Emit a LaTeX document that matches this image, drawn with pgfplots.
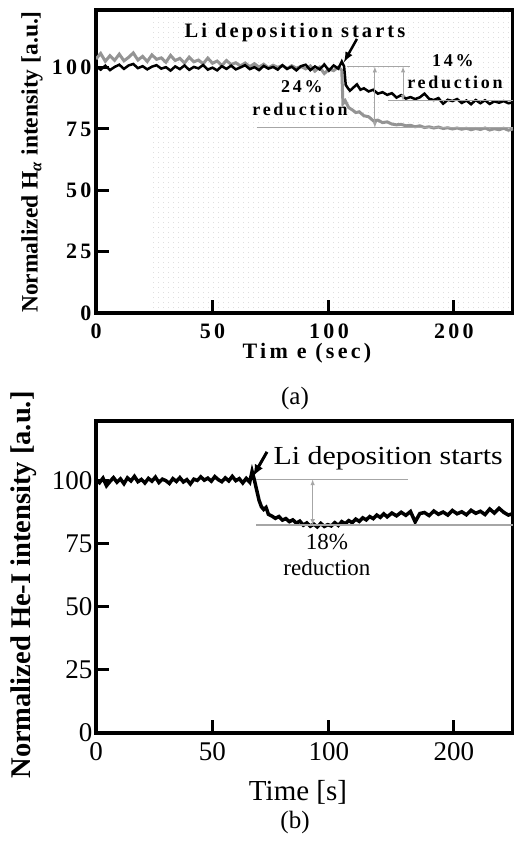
\documentclass[border=0pt]{standalone}
\usepackage{fontspec}
\setmainfont{Liberation Serif}
\newfontfamily\spbold[LetterSpace=15]{Liberation Serif Bold}
\usepackage{graphicx}
\usepackage{pgfplots}
\pgfplotsset{compat=1.18}
\pgfplotsset{myax/.style={
  scale only axis, width=417bp, xmin=0, xmax=179, ymin=0,
  anchor=south west,
  axis line style={line width=3.5bp},
  major tick length=13bp, tick style={black, line width=3bp},
  tick pos=left,
  xtick={0,50,100,153.6}, xticklabels={0,50,100,200},
  ytick={0,25,50,75,100}, yticklabels={0,25,50,75,100},
}}
\begin{document}
\begin{tikzpicture}
\useasboundingbox (0,0) rectangle (514bp,-841bp);
% ---------------- panel (a) ----------------
\begin{axis}[myax, at={(96bp,-313bp)}, height=303bp, ymax=123.5,
  tick label style={font=\spbold\fontsize{22bp}{26bp}\selectfont},
  xticklabel shift=7bp, yticklabel shift=1bp,
  xminorgrids=true, minor xtick={24.5,26.65,...,179}, minor tick length=0pt,
  minor grid style={gray!25, line width=0.9bp, dash pattern=on 0.9bp off 4.1bp},
]
\addplot[black!42, line width=3bp] coordinates {
(0,103.5)(2,105.8)(4,102.6)(6,104.9)(8,103.0)(10,105.5)(12,102.8)(14,104.2)(16,106.0)(18,103.1)
(20,104.6)(22,102.5)(24,105.2)(26,103.4)(28,104.0)(30,102.2)(32,105.0)(34,102.9)(36,103.8)(38,101.9)
(40,104.3)(42,102.4)(44,103.1)(46,101.6)(48,103.9)(50,101.8)(52,102.7)(54,100.9)(56,102.9)(58,101.3)
(60,102.0)(62,100.7)(64,101.9)(66,100.4)(68,101.6)(70,100.2)(72,101.4)(74,99.9)(76,101.0)(78,100.1)
(80,100.9)(82,99.6)(84,100.8)(86,99.8)(88,100.5)(90,99.5)(92,100.7)(94,98.6)(96,100.2)(98,97.6)
(100,99.4)(102,98.8)(104,100.2)(105.5,99.0)(106,85.3)(107,86.5)(108.5,83.7)(110,82.8)(111.5,81.7)(113,82.0)
(115,80.4)(117,80.0)(119,78.4)(121,78.6)(123,77.6)(125,77.9)(127,77.0)(129,76.7)(131,76.9)(133,76.3)
(135,76.5)(137,75.9)(139,76.3)(141,75.6)(143,75.9)(145,75.4)(147,75.8)(149,75.2)(151,75.5)(153,75.0)
(155,75.4)(157,74.9)(159,75.3)(161,74.7)(163,75.2)(165,74.8)(167,75.4)(169,74.6)(171,75.1)(173,74.7)
(175,75.3)(177,74.5)(179,75.0)};
\addplot[black, line width=2.5bp] coordinates {
(0,100.5)(2,99.2)(4,100.8)(6,99.0)(8,100.3)(10,101.2)(12,99.5)(14,100.9)(16,101.5)(18,99.8)
(20,100.6)(22,99.3)(24,100.4)(26,101.0)(28,99.6)(30,100.2)(32,98.8)(34,100.5)(36,99.4)(38,100.9)
(40,99.1)(42,100.3)(44,99.7)(46,101.1)(48,99.2)(50,100.0)(52,98.9)(54,100.6)(56,99.5)(58,100.8)
(60,99.3)(62,100.1)(64,101.0)(66,99.4)(68,100.2)(70,99.0)(72,100.7)(74,99.6)(76,100.3)(78,99.2)
(80,101.0)(82,99.5)(84,100.4)(86,98.9)(88,100.6)(90,101.2)(92,99.0)(94,100.5)(96,99.3)(98,101.3)
(100,98.8)(102,100.9)(104,99.6)(105.5,102.5)(106.5,100.5)(107.2,93.0)(108,91.8)(109,90.6)(110.5,91.9)(112,93.2)
(113.5,91.0)(115,91.6)(117,90.3)(119,91.0)(121,89.4)(123,90.0)(125,88.9)(127,89.6)(129,87.8)(131,88.8)
(133,87.4)(135,88.0)(137,87.2)(139,87.9)(141,89.4)(143,87.3)(145,86.8)(147,87.6)(149,85.3)(151,86.9)
(153,86.4)(155,87.2)(157,85.6)(159,86.6)(161,85.1)(163,86.8)(165,85.5)(167,86.7)(169,85.2)(171,86.3)
(173,85.7)(175,86.4)(177,85.5)(179,85.8)};
% reference lines
\addplot[gray!70, line width=1.2bp] coordinates {(107.7,100.4)(134.8,100.4)};
\addplot[gray!70, line width=1.2bp] coordinates {(125.3,86.5)(179,86.5)};
\addplot[gray!70, line width=1.2bp] coordinates {(69,75.5)(179,75.5)};
\addplot[gray!70, line width=1bp, <->, >=latex] coordinates {(119.7,100.4)(119.7,75.5)};
\addplot[gray!70, line width=1bp, <->, >=latex] coordinates {(131.8,100.4)(131.8,86.5)};
\addplot[black, line width=2.5bp, -latex] coordinates {(112,111.7)(106.4,102.2)};
\node[anchor=base, font=\spbold\fontsize{20.5bp}{24bp}\selectfont] at (axis cs:85.4,112.1) {Li deposition starts};
\node[font=\spbold\fontsize{18bp}{22bp}\selectfont] at (axis cs:153.2,102.7) {14\%};
\node[font=\spbold\fontsize{18bp}{22bp}\selectfont] at (axis cs:154.1,94.2) {reduction};
\node[font=\spbold\fontsize{18bp}{22bp}\selectfont] at (axis cs:88.4,92.1) {24\%};
\node[font=\spbold\fontsize{18bp}{22bp}\selectfont] at (axis cs:87.6,83.2) {reduction};
\end{axis}
\node[rotate=90, font=\bfseries\fontsize{23.5bp}{28bp}\selectfont] at (32bp,-162bp) {Normalized H\textsubscript{\textit{α}} intensity [a.u.]};
\node[font=\spbold\fontsize{22bp}{26bp}\selectfont] at (307bp,-353bp) {Tim e (sec)};
\node[font=\fontsize{25bp}{30bp}\selectfont] at (295bp,-398bp) {(a)};
% ---------------- panel (b) ----------------
\begin{axis}[myax, at={(96bp,-733bp)}, height=312bp, ymax=123.4,
  tick label style={font=\fontsize{27bp}{32bp}\selectfont},
  xticklabel shift=6bp,
]
\addplot[black, line width=3.5bp] coordinates {
(0,100.2)(1.5,99.0)(3,100.8)(4.5,97.8)(6,99.5)(7.5,101.0)(9,99.2)(10.5,100.5)(12,98.6)(13.5,100.9)
(15,99.7)(16.5,101.5)(18,99.4)(19.5,100.3)(21,98.9)(22.5,100.7)(24,99.6)(25.5,101.2)(27,99.1)(28.5,100.4)
(30,99.8)(31.5,98.7)(33,100.6)(34.5,99.5)(36,101.0)(37.5,99.3)(39,100.2)(40.5,98.5)(42,100.4)(43.5,99.9)
(45,101.3)(46.5,100.0)(48,100.8)(49.5,99.6)(51,101.4)(52.5,100.2)(54,99.4)(55.5,100.9)(57,99.7)(58.5,101.5)
(60,99.8)(61.5,100.6)(63,98.9)(64.5,100.7)(66,99.2)(67,103.5)(68,100.0)(69,96.0)(70,92.0)(71,89.5)
(72,88.4)(73,89.2)(74,86.5)(75.5,85.8)(77,84.9)(78.5,85.6)(80,84.2)(81.5,84.8)(83,83.6)(84.5,84.3)
(86,83.0)(87.5,83.8)(89,82.2)(90.5,83.1)(92,81.8)(93.5,82.6)(95,81.5)(96.5,82.9)(98,81.7)(99.5,82.4)
(101,81.9)(102.5,83.2)(104,82.1)(105.5,83.6)(107,82.8)(108.5,84.0)(110,83.2)(111.5,84.6)(113,83.7)(114.5,85.1)
(116,84.3)(117.5,85.6)(119,84.8)(120.5,86.2)(122,85.3)(123.5,86.7)(125,85.5)(127,87.0)(129,85.9)(131,87.3)
(133,86.1)(135,87.6)(137,83.5)(139,86.8)(141,87.2)(143,86.0)(145,87.8)(147,86.5)(149,87.4)(151,86.2)
(153,88.0)(155,86.7)(157,87.5)(159,86.3)(161,88.1)(163,86.9)(165,87.7)(167,86.4)(169,88.6)(171,87.0)
(173,88.9)(175,87.3)(177,86.2)(179,86.8)};
\addplot[gray!70, line width=1.2bp] coordinates {(68.7,100.3)(134,100.3)};
\addplot[gray!70, line width=1.2bp] coordinates {(68.7,82.3)(179,82.3)};
\addplot[gray!70, line width=1bp, <->, >=latex] coordinates {(93,100.3)(93,82.3)};
\addplot[black, line width=3bp, -latex] coordinates {(73.4,111.2)(67.4,101.5)};
\node[anchor=base west, font=\fontsize{26bp}{30bp}\selectfont] at (axis cs:74.7,106) {\scalebox{1.15}[1]{Li deposition starts}};
\node[font=\fontsize{23bp}{27bp}\selectfont] at (axis cs:99.1,75.6) {18\%};
\node[font=\fontsize{23bp}{27bp}\selectfont] at (axis cs:99.1,65.3) {reduction};
\end{axis}
\node[rotate=90, font=\bfseries\fontsize{28.5bp}{33bp}\selectfont] at (24bp,-585bp) {Normalized He-I intensity [a.u.]};
\node[font=\fontsize{29bp}{34bp}\selectfont] at (298bp,-792bp) {Time [s]};
\node[font=\fontsize{25bp}{30bp}\selectfont] at (295bp,-822bp) {(b)};
\end{tikzpicture}
\end{document}
